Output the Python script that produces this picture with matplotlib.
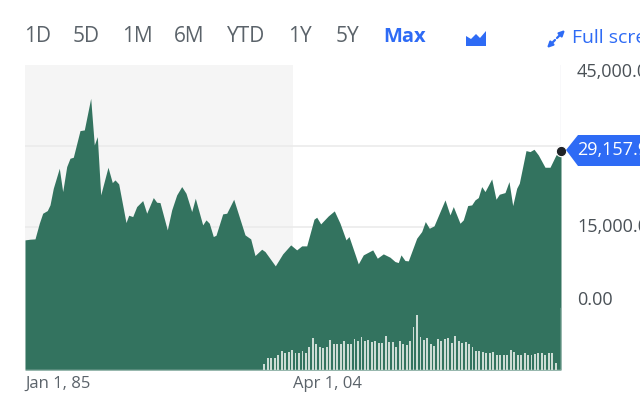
import matplotlib
matplotlib.use("Agg")
import matplotlib.pyplot as plt
from matplotlib.patches import Polygon, Rectangle

price_x = [0,5,10,14.3,17.7,22.3,25,28.3,34.3,37.7,41.7,45,48.3,55,59.3,65.7,69.3,72.3,75.7,83,87.3,90,93.7,
           101,103.7,107.7,111.7,117.7,121.7,128.3,131.7,135,142.3,146.7,151.7,156.7,161,166.7,170.3,177.7,181,
           184.3,188.3,191,197.7,201.7,208.7,220,225.7,230,236.7,240,250.3,257.7,265.7,271.7,
           276.7,281.7,289,291.7,295.7,303.3,309.3,315,321,324,333.3,338.3,347.7,352.3,358.3,365,370,373.3,376,
           380,383.3,391.7,396.7,400.3,404.3,409,420,425,428.3,435,438.3,442.7,446.7,450,453.3,456.7,460,466.7,
           471,474.3,480,484,487.7,491.7,494.3,501,505,509,513.3,520,525,531,536]
price_y = [12612,12735,12797,15697,17548,18042,19090,22175,25877,21558,26186,27728,27914,32850,32973,38834,30196,
           31739,20941,26063,23224,23718,22978,15820,17178,16931,18782,19893,17548,20448,19584,19522,14463,18165,
           20941,22484,21250,17856,20324,15388,16314,15697,13229,13476,17425,17548,20139,13537,12797,9712,10884,
           10452,7799,10021,11686,10761,11501,11501,16437,16808,15574,17054,17980,15697,12612,13229,8170,9835,
           10761,9218,10021,9404,8601,8416,9835,8787,8725,12920,14154,16005,14771,15203,20016,17239,18782,15697,
           16314,18967,19090,20016,20448,22484,21558,23903,20139,21065,21373,23409,18967,22175,23101,29148,28962,
           29394,28345,26063,26063,28345,29157]
volume = [18,37,37,37,45,58,50,54,60,50,50,56,52,70,95,78,70,65,68,90,78,78,78,86,79,79,93,86,100,86,90,85,87,80,
          80,102,83,83,68,87,78,75,86,128,165,98,91,97,78,72,92,86,94,97,80,101,86,80,83,77,68,58,56,54,50,50,53,
          44,44,44,44,59,55,46,46,51,44,44,49,51,50,46,50,50,22]
volume_start = 239.3
volume_step = 3.47
y_ticks = [15000, 30000]
right_labels = [("45,000.0", 72), ("15,000.0", 227), ("0.00", 300)]
range_labels = [("1D", 24), ("5D", 73), ("1M", 122), ("6M", 174), ("YTD", 227), ("1Y", 288), ("5Y", 336)]

W, H = 640, 409
plt.rcParams["font.family"] = ["Open Sans", "DejaVu Sans"]
fig = plt.figure(figsize=(6.4, 4.09), dpi=100, facecolor="white")
ax = fig.add_axes([25/W, 1-370/H, 536/W, 305/H])
ax.set_xlim(0, 536)
ax.set_ylim(-11485, 45000)
for s in ax.spines.values():
    s.set_visible(False)
ax.axvspan(0, 268, color="#f5f5f5", lw=0, zorder=0)
ax.set_yticks(y_ticks)
ax.set_yticklabels([])
ax.tick_params(length=0)
ax.grid(axis="y", color="#ebebeb", lw=1.2, zorder=1)
ax.set_xticks([0, 268])
ax.set_xticklabels(["Jan 1, 85", "Apr 1, 04"], ha="left", fontsize=12, color="#5b636a")
ax.tick_params(axis="x", pad=4)
ax.fill_between(price_x, -11485, price_y, color="#33735f", lw=0, zorder=2)
ax.axvline(536, color="#dcdce6", lw=1, zorder=1.5)
ax.plot([536, 536], [-11485, 0], color="#e8efec", lw=1, zorder=3)
ax.plot([536], [price_y[-1]], "o", ms=7.5, mfc="#1f2226", mec="white", mew=0.8, zorder=6, clip_on=False)

vol = ax.twinx()
vol.set_position(ax.get_position())
vol.set_ylim(0, 915)
vol.set_yticks([])
for s in vol.spines.values():
    s.set_visible(False)
vx = [volume_start + i * volume_step for i in range(len(volume))]
vol.bar(vx, volume, width=1.9, color="#cddcd5", lw=0, zorder=4)
vol.axhline(0, color="#e6ebe9", lw=1)

gray = "#5b636a"
blue = "#2e6bf5"
for t, x in range_labels:
    fig.text(x/W, 1-37/H, t, fontsize=15, color=gray, va="center", ha="left")
fig.text(383/W, 1-37/H, "Max", fontsize=14.5, color=blue, va="center", ha="left", fontweight="bold")
fig.text(572/W, 1-38/H, "Full screen", fontsize=14, color=blue, va="center", ha="left")
for t, y in right_labels:
    fig.text(577/W, 1-y/H, t, fontsize=13, color="#4a5157", va="center", ha="left")

def P(x, y):
    return (x/W, 1-y/H)

fig.add_artist(Polygon([P(566,150), P(578,135), P(640,135), P(640,166), P(578,166)],
                       closed=True, color=blue, lw=0, transform=fig.transFigure))
fig.text(577/W, 1-150/H, "29,157.9", fontsize=13, color="white", va="center", ha="left")
fig.add_artist(Polygon([P(466,46), P(466,36), P(471,39), P(476,34), P(480,38), P(486,31), P(486,46)],
                       closed=True, color=blue, lw=0, transform=fig.transFigure))
arrow = dict(arrowstyle="-|>", color=blue, lw=1.6, mutation_scale=8, shrinkA=0, shrinkB=0)
ax.annotate("", xy=P(565,30), xytext=P(557,38), xycoords="figure fraction", textcoords="figure fraction",
            arrowprops=arrow, annotation_clip=False)
ax.annotate("", xy=P(547,48), xytext=P(555,40), xycoords="figure fraction", textcoords="figure fraction",
            arrowprops=arrow, annotation_clip=False)
fig.savefig("out.png", dpi=100)
